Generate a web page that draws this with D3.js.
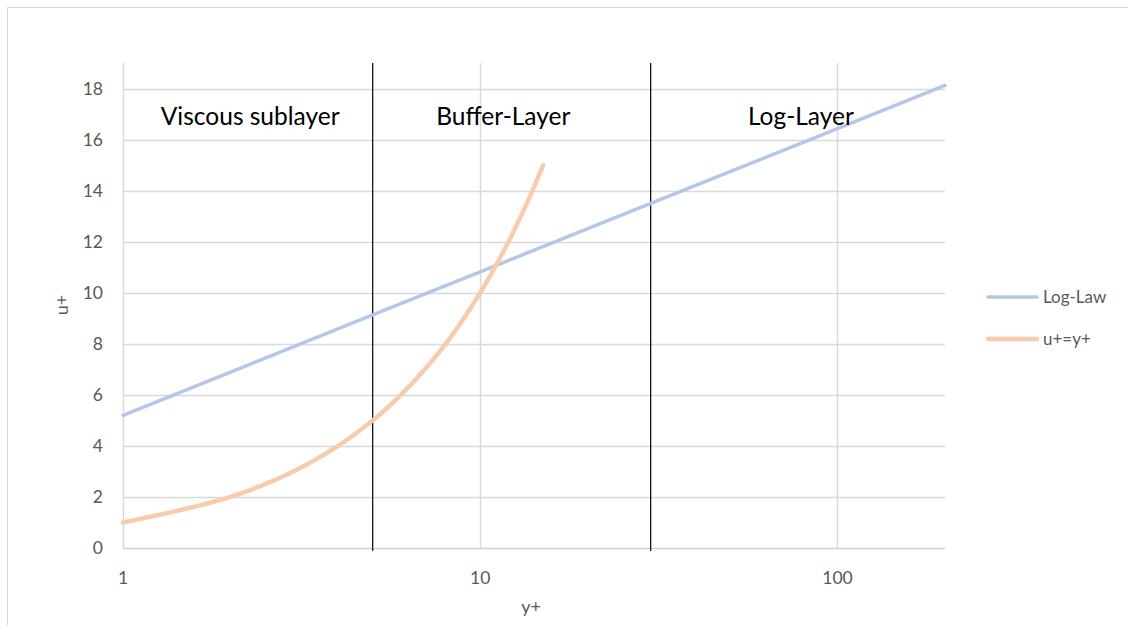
<!DOCTYPE html>
<html><head><meta charset="utf-8">
<script src="https://cdn.jsdelivr.net/npm/d3@7"></script>
<style>body{margin:0;background:#fff;}svg{display:block;font-family:Lato,"Open Sans",sans-serif;}</style>
</head><body>
<svg id="c" width="1128" height="625"></svg>
<script>
const logLawX = [1, 2, 5, 10, 20, 50, 100, 200];
const logLawY = [5.2, 6.89, 9.13, 10.82, 12.51, 14.74, 16.43, 18.12];
const linX = [1,2,3,4,5,6,7,8,9,10,11,12,13,14,15];
const linY = [1,2,3,4,5,6,7,8,9,10,11,12,13,14,15];
const xTicks = [1, 10, 100];
const yTicks = [0,2,4,6,8,10,12,14,16,18];
const regionBounds = [5, 30];
const regionLabels = ["Viscous sublayer", "Buffer-Layer", "Log-Layer"];
const regionLabelX = [2.27, 11.6, 79];
const seriesNames = ["Log-Law", "u+=y+"];
const colors = ["#b4c7e7", "#f8cbad"];

const svg = d3.select("#c");
const L = 123, R = 945, T = 63, B = 548;
const x = d3.scaleLog().domain([1, 200]).range([L, R]);
const y = d3.scaleLinear().domain([0, 19]).range([B, T]);

// outer border
svg.append("rect").attr("x",7.5).attr("y",7.5).attr("width",1130).attr("height",640)
  .attr("fill","none").attr("stroke","#d9d9d9");

// gridlines
svg.append("g").selectAll("line").data(yTicks.filter(d=>d>0)).join("line")
  .attr("x1",L).attr("x2",R).attr("y1",d=>Math.round(y(d))+0.5).attr("y2",d=>Math.round(y(d))+0.5)
  .attr("stroke","#d9d9d9").attr("stroke-width",1.5);
svg.append("g").selectAll("line").data(xTicks).join("line")
  .attr("x1",d=>Math.round(x(d))+0.5).attr("x2",d=>Math.round(x(d))+0.5).attr("y1",T).attr("y2",B)
  .attr("stroke","#d9d9d9").attr("stroke-width",1.5);
// x axis line
svg.append("line").attr("x1",L).attr("x2",R).attr("y1",Math.round(y(0))+0.5).attr("y2",Math.round(y(0))+0.5)
  .attr("stroke","#d0d0d0").attr("stroke-width",1.5);

// tick labels
svg.append("g").selectAll("text").data(yTicks).join("text")
  .attr("x",103).attr("y",d=>y(d)).attr("dy","0.35em").attr("text-anchor","end")
  .attr("fill","#595959").attr("font-size",17.5).text(d=>d);
svg.append("g").selectAll("text").data(xTicks).join("text")
  .attr("x",d=>x(d)).attr("y",578).attr("dy","0.35em").attr("text-anchor","middle")
  .attr("fill","#595959").attr("font-size",17.5).text(d=>d);

// axis titles
svg.append("text").attr("x",531).attr("y",607).attr("dy","0.35em").attr("text-anchor","middle")
  .attr("fill","#595959").attr("font-size",18).text("y+");
svg.append("text").attr("transform","translate(62,305) rotate(-90)").attr("dy","0.35em").attr("text-anchor","middle")
  .attr("fill","#595959").attr("font-size",18).text("u+");

// region boundaries
svg.append("g").selectAll("line").data(regionBounds).join("line")
  .attr("x1",d=>x(d)).attr("x2",d=>x(d)).attr("y1",T).attr("y2",551)
  .attr("stroke","#000").attr("stroke-width",1.2);

// series
const line = d3.line().x(d=>x(d[0])).y(d=>y(d[1]));
svg.append("path").datum(logLawX.map((v,i)=>[v,logLawY[i]]))
  .attr("d",line).attr("fill","none").attr("stroke",colors[0]).attr("stroke-width",3.5).attr("stroke-linecap","round");
svg.append("path").datum(linX.map((v,i)=>[v,linY[i]]))
  .attr("d",line.curve(d3.curveCatmullRom.alpha(0.5))).attr("fill","none").attr("stroke",colors[1]).attr("stroke-width",4.5).attr("stroke-linecap","round");

// region labels
svg.append("g").selectAll("text").data(regionLabels).join("text")
  .attr("x",(d,i)=>x(regionLabelX[i])).attr("y",116).attr("dy","0.35em").attr("text-anchor","middle")
  .attr("fill","#000").attr("font-size",24.5).text(d=>d);

// legend
const lg = svg.append("g").selectAll("g").data(seriesNames).join("g")
  .attr("transform",(d,i)=>`translate(988,${297+i*42})`);
lg.append("line").attr("x1",0).attr("x2",49).attr("stroke",(d,i)=>colors[i]).attr("stroke-width",(d,i)=>i?4.5:3.5).attr("stroke-linecap","round");
lg.append("text").attr("x",55).attr("dy","0.35em").attr("fill","#595959").attr("font-size",17).text(d=>d);
</script>
</body></html>
